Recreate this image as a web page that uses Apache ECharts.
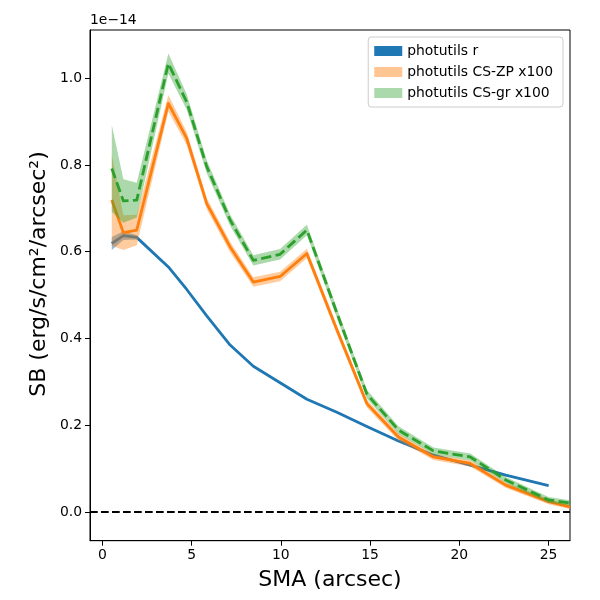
<!DOCTYPE html>
<html>
<head>
<meta charset="utf-8">
<script src="https://cdn.jsdelivr.net/npm/echarts@6/dist/echarts.min.js"></script>
<style>
  html, body { margin: 0; padding: 0; background: #fff; }
  #chart { width: 600px; height: 600px; }
</style>
</head>
<body>
<div id="chart"></div>
<script>
// SMA 采样点 (arcsec)
const sma = [0.53, 1.18, 1.93, 3.70, 4.73, 5.85, 7.16, 8.46, 9.96, 11.46, 13.14, 14.82, 16.59, 18.55, 20.61, 22.6, 25.0, 26.2];

// photutils r (x1e-14)
const rSB  = [0.619, 0.637, 0.633, 0.565, 0.513, 0.452, 0.385, 0.336, 0.298, 0.260, 0.230, 0.197, 0.164, 0.131, 0.108, 0.085, 0.061];
const rErr = [0.015, 0.010, 0.005, 0.003, 0.002, 0.002, 0.002, 0.002, 0.002, 0.002, 0.002, 0.002, 0.002, 0.002, 0.002, 0.002, 0.002];

// photutils CS-ZP x100
const zpSB  = [0.719, 0.644, 0.650, 0.942, 0.861, 0.711, 0.611, 0.530, 0.543, 0.596, 0.420, 0.250, 0.173, 0.127, 0.112, 0.062, 0.024, 0.012];
const zpErr = [0.105, 0.040, 0.035, 0.019, 0.015, 0.013, 0.012, 0.011, 0.011, 0.011, 0.010, 0.009, 0.008, 0.007, 0.007, 0.006, 0.006, 0.005];

// photutils CS-gr x100
const grSB  = [0.792, 0.717, 0.719, 1.034, 0.945, 0.796, 0.673, 0.580, 0.594, 0.650, 0.459, 0.272, 0.189, 0.141, 0.127, 0.074, 0.028, 0.021];
const grErr = [0.100, 0.050, 0.040, 0.023, 0.018, 0.015, 0.013, 0.012, 0.012, 0.012, 0.011, 0.010, 0.009, 0.008, 0.008, 0.007, 0.007, 0.006];

const xTicks = [0, 5, 10, 15, 20, 25];
const yTicks = [0, 0.2, 0.4, 0.6, 0.8, 1.0];

const FONT = 'DejaVu Sans';

// 误差带：用 custom series 画一个多边形
function band(name, ys, err, color, z) {
  const n = ys.length;
  const xs = sma.slice(0, n);
  return {
    type: 'custom',
    name: name,
    z: z,
    clip: true,
    silent: true,
    itemStyle: { color: color },
    encode: { x: 0, y: [1, 2] },
    data: xs.map((x, i) => [x, ys[i] - err[i], ys[i] + err[i]]),
    renderItem: function (params, api) {
      if (params.dataIndex !== 0) return null;
      const pts = [];
      for (let i = 0; i < n; i++) pts.push(api.coord([xs[i], ys[i] - err[i]]));
      for (let i = n - 1; i >= 0; i--) pts.push(api.coord([xs[i], ys[i] + err[i]]));
      return { type: 'polygon', shape: { points: pts }, style: { fill: color } };
    }
  };
}

function line(name, ys, color, type, z) {
  return {
    type: 'line',
    name: name,
    z: z,
    showSymbol: false,
    silent: true,
    data: ys.map((v, i) => [sma[i], v]),
    lineStyle: { color: color, width: 2.8, type: type, join: 'round', cap: 'butt' },
    itemStyle: { color: color }
  };
}

const chart = echarts.init(document.getElementById('chart'));

const rLine = line('r-line', rSB, '#1f77b4', 'solid', 3);
rLine.markLine = {
  silent: true,
  symbol: ['none', 'none'],
  label: { show: false },
  lineStyle: { color: '#000', width: 2, type: [7.7, 3.3] },
  data: [{ yAxis: 0 }]
};

chart.setOption({
  animation: false,
  textStyle: { fontFamily: FONT },
  grid: {
    left: 90, right: 30, top: 30, bottom: 59.3,
    show: true, borderColor: '#000', borderWidth: 1, backgroundColor: '#fff'
  },
  xAxis: {
    type: 'value',
    min: -0.69, max: 26.2,
    axisLine: { show: true, onZero: false, lineStyle: { color: '#000', width: 1 } },
    axisTick: { show: true, length: 5, customValues: xTicks, lineStyle: { color: '#000' } },
    axisLabel: { customValues: xTicks, color: '#000', fontSize: 13.9, margin: 8, fontFamily: FONT },
    splitLine: { show: false }
  },
  yAxis: {
    type: 'value',
    min: -0.066, max: 1.111,
    axisLine: { show: true, onZero: false, lineStyle: { color: '#000', width: 1 } },
    axisTick: { show: true, length: 5, customValues: yTicks, lineStyle: { color: '#000' } },
    axisLabel: {
      customValues: yTicks, color: '#000', fontSize: 13.9, margin: 8, fontFamily: FONT,
      formatter: v => v.toFixed(1)
    },
    splitLine: { show: false }
  },
  legend: {
    orient: 'vertical',
    right: 37, top: 37,
    padding: [7, 10, 7, 6],
    itemGap: 7,
    itemWidth: 28, itemHeight: 10,
    icon: 'rect',
    backgroundColor: 'rgba(255,255,255,0.8)',
    borderColor: '#cccccc', borderWidth: 1, borderRadius: 3,
    textStyle: { fontSize: 13.9, color: '#000', fontFamily: FONT },
    data: [
      { name: 'photutils r', itemStyle: { color: '#1f77b4' } },
      { name: 'photutils CS-ZP x100', itemStyle: { color: 'rgba(255,127,14,0.45)' } },
      { name: 'photutils CS-gr x100', itemStyle: { color: 'rgba(44,160,44,0.4)' } }
    ]
  },
  graphic: [
    {
      type: 'text', left: 90, top: 13,
      style: { text: '1e\u221214', fontSize: 13.9, fontFamily: FONT, fill: '#000' }
    },
    {
      type: 'text', x: 330, y: 580,
      style: { text: 'SMA (arcsec)', fontSize: 22, fontFamily: FONT, fill: '#000',
               textAlign: 'center', textVerticalAlign: 'middle' }
    },
    {
      type: 'text', x: 39, y: 274, rotation: Math.PI / 2,
      style: { text: 'SB (erg/s/cm\u00b2/arcsec\u00b2)', fontSize: 22, fontFamily: FONT, fill: '#000',
               textAlign: 'center', textVerticalAlign: 'middle' }
    }
  ],
  series: [
    band('photutils r', rSB, rErr, 'rgba(31,119,180,0.5)', 2),
    rLine,
    band('photutils CS-ZP x100', zpSB, zpErr, 'rgba(255,127,14,0.4)', 4),
    line('zp-line', zpSB, '#ff7f0e', 'solid', 5),
    band('photutils CS-gr x100', grSB, grErr, 'rgba(44,160,44,0.4)', 6),
    line('gr-line', grSB, '#2ca02c', [10.3, 4.4], 7)
  ]
});
</script>
</body>
</html>
